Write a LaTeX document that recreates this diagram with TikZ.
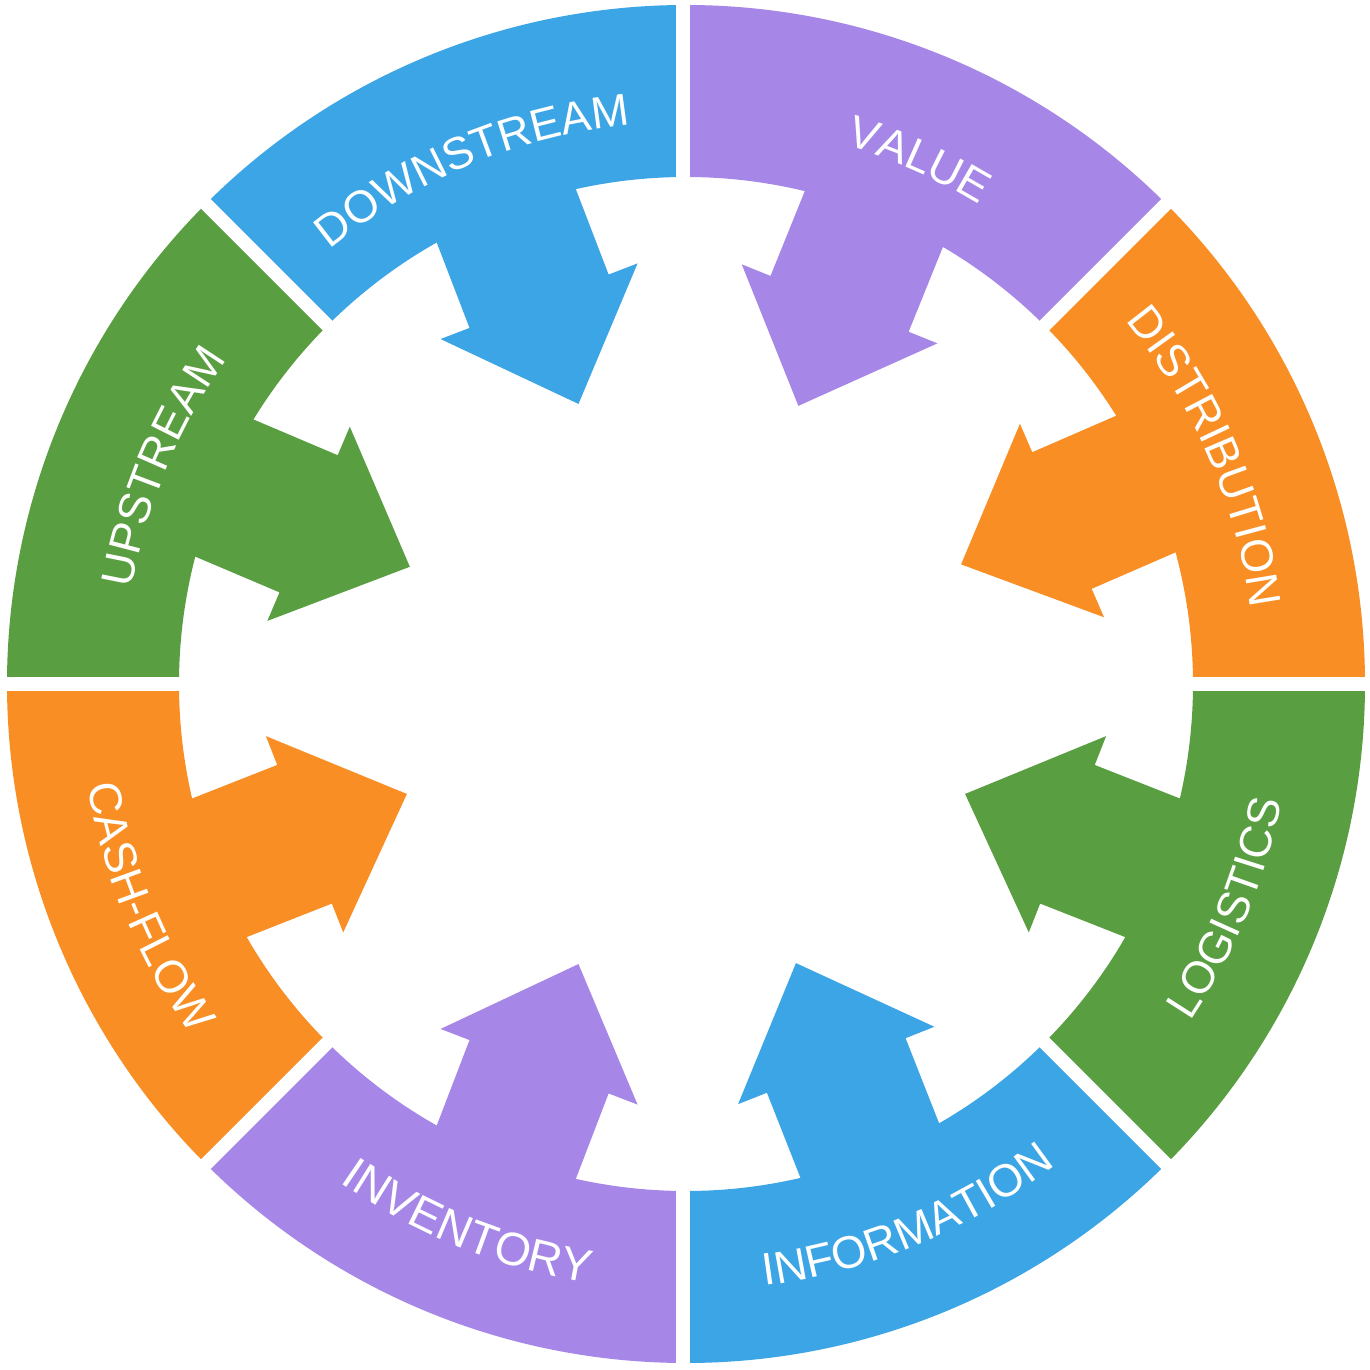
\documentclass[tikz,border=0pt]{standalone}
\usepackage{fontspec}
\newfontfamily\lblfont{Liberation Sans}
\usetikzlibrary{decorations.text}
\definecolor{cblue}{HTML}{3BA5E6}
\definecolor{cpurple}{HTML}{A687E7}
\definecolor{corange}{HTML}{F98E24}
\definecolor{cgreen}{HTML}{599E41}
\tikzset{
  gapline/.style={white, line width=13.5pt},
  lbl/.style 2 args={decorate, decoration={text along path, text={|\lblfont\fontsize{#2}{54}\selectfont|#1}, text align=center, text color=white}}
}
% #1 centre angle, #2 baseline radius, #3 font size, #4 text
\newcommand\toplabel[4]{\path[lbl={#4}{#3}] ({#1+22.5}:#2pt) arc[start angle=#1+22.5, end angle=#1-22.5, radius=#2pt];}
\newcommand\botlabel[4]{\path[lbl={#4}{#3}] ({#1-22.5}:#2pt) arc[start angle=#1-22.5, end angle=#1+22.5, radius=#2pt];}
\begin{document}
\begin{tikzpicture}
\useasboundingbox (-686pt,-686pt) rectangle (684pt,684pt);
\fill[white] (-686pt,-686pt) rectangle (684pt,684pt);
\foreach \a/\c/\r in {0/corange/23.5,45/cpurple/68,90/cblue/111,135/cgreen/157,180/corange/201.5,225/cpurple/249,270/cblue/291.5,315/cgreen/338.5} {
  \fill[\c] (\a:679pt) arc[start angle=\a, end angle=\a+45, radius=679pt] -- ({\a+45}:507pt) arc[start angle=\a+45, end angle=\a, radius=507pt] -- cycle;
  \begin{scope}[rotate=\r]
    \fill[\c] (530pt,74.5pt) -- (410pt,74.5pt) -- (410pt,105.5pt) -- (300pt,0pt) -- (410pt,-105.5pt) -- (410pt,-74.5pt) -- (530pt,-74.5pt) -- cycle;
  \end{scope}
}
\foreach \a in {0,45,135,180,225,315} {
  \draw[gapline] (\a:470pt) -- (\a:710pt);
}
\draw[gapline] (-3pt,470pt) -- (-3pt,710pt);
\draw[gapline] (-3pt,-470pt) -- (-3pt,-710pt);
\toplabel{23.6}{570}{45}{DISTRIBUTION}
\toplabel{66}{562}{45}{VALUE}
\toplabel{112.5}{562}{45}{DOWNSTREAM}
\toplabel{157.5}{562}{45}{UPSTREAM}
\botlabel{202.5}{607}{45.5}{CASH-FLOW}
\botlabel{248}{607}{46.5}{INVENTORY}
\botlabel{292.5}{607}{45.5}{INFORMATION}
\botlabel{337.5}{607}{45}{LOGISTICS}
\end{tikzpicture}
\end{document}
